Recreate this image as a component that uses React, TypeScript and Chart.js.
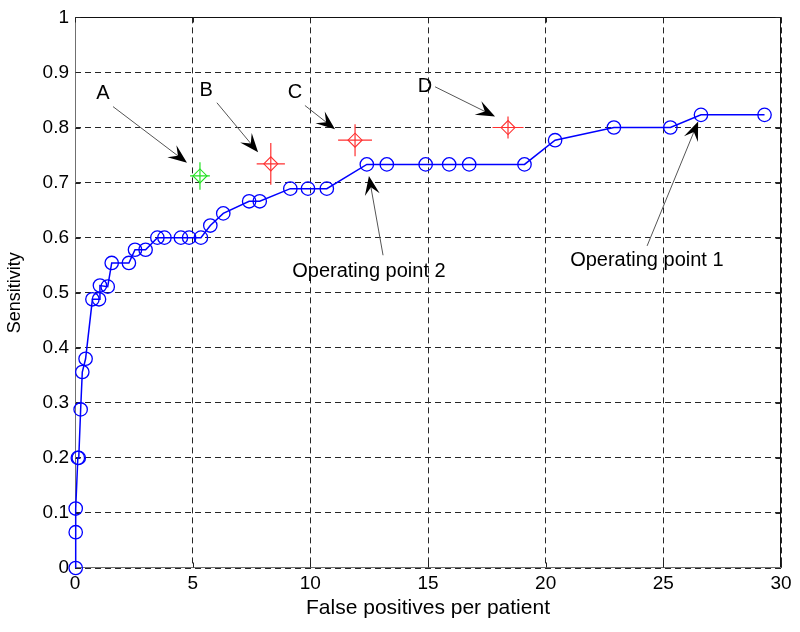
import React, { useEffect, useRef } from 'react';
import { Chart, registerables } from 'chart.js';

Chart.register(...registerables);

// ROC-like curve (blue)
const fpPerPatient = [0.03, 0.03, 0.03, 0.12, 0.16, 0.24, 0.31, 0.45, 0.74, 1.02, 1.06, 1.39, 1.56, 2.29, 2.55, 3.0, 3.5, 3.8, 4.5, 4.85, 5.35, 5.75, 6.3, 7.4, 7.85, 9.15, 9.9, 10.7, 12.4, 13.25, 14.9, 15.9, 16.75, 19.1, 20.4, 22.9, 25.3, 26.6, 29.3];
const sensitivity = [0, 0.065, 0.108, 0.2, 0.2, 0.288, 0.356, 0.38, 0.488, 0.488, 0.513, 0.511, 0.554, 0.554, 0.578, 0.578, 0.6, 0.6, 0.6, 0.6, 0.6, 0.622, 0.644, 0.666, 0.666, 0.689, 0.689, 0.689, 0.733, 0.733, 0.733, 0.733, 0.733, 0.733, 0.777, 0.8, 0.8, 0.823, 0.823];

// Comparison markers A-D with crosshair error bars
const markerLabels = ['A', 'B', 'C', 'D'];
const markerFp = [5.31, 8.32, 11.9, 18.4];
const markerSens = [0.712, 0.734, 0.777, 0.8];
const markerFpErr = [0.42, 0.6, 0.72, 0.66];
const markerSensErr = [0.025, 0.038, 0.029, 0.02];
const markerColors = ['#22e022', '#ff3030', '#ff3030', '#ff3030'];

// Annotation texts and arrows (data coordinates)
const noteTexts = ['A', 'B', 'C', 'D', 'Operating point 2', 'Operating point 1'];
const noteTextX = [1.19, 5.57, 9.35, 14.87, 12.49, 24.3];
const noteTextY = [0.8615, 0.867, 0.864, 0.875, 0.538, 0.5585];
const arrowTailX = [1.615, 6.03, 9.77, 15.3, 13.09, 24.31];
const arrowTailY = [0.838, 0.845, 0.84, 0.874, 0.568, 0.585];
const arrowTipX = [4.76, 7.78, 11.05, 17.85, 12.49, 26.48];
const arrowTipY = [0.736, 0.755, 0.797, 0.82, 0.712, 0.811];

const xTickLabels = ['0', '5', '10', '15', '20', '25', '30'];
const yTickLabels = ['0', '0.1', '0.2', '0.3', '0.4', '0.5', '0.6', '0.7', '0.8', '0.9', '1'];

const FONT = "'Liberation Sans', Arial, Helvetica, sans-serif";

function drawArrow(ctx: CanvasRenderingContext2D, x1: number, y1: number, x2: number, y2: number) {
  const dx = x2 - x1;
  const dy = y2 - y1;
  const len = Math.hypot(dx, dy);
  const ux = dx / len;
  const uy = dy / len;
  const px = -uy;
  const py = ux;
  const L = 19;
  const W = 7.5;
  const bx = x2 - L * ux;
  const by = y2 - L * uy;
  const nx = x2 - 0.6 * L * ux;
  const ny = y2 - 0.6 * L * uy;
  ctx.save();
  ctx.strokeStyle = '#555';
  ctx.lineWidth = 1;
  ctx.beginPath();
  ctx.moveTo(x1, y1);
  ctx.lineTo(nx, ny);
  ctx.stroke();
  ctx.fillStyle = '#000';
  ctx.beginPath();
  ctx.moveTo(x2, y2);
  ctx.lineTo(bx + W * px, by + W * py);
  ctx.lineTo(nx, ny);
  ctx.lineTo(bx - W * px, by - W * py);
  ctx.closePath();
  ctx.fill();
  ctx.restore();
}

const overlayPlugin = {
  id: 'overlay',
  beforeDatasetsDraw(chart: any) {
    const { ctx, chartArea, scales } = chart;
    const xs = scales.x;
    const ys = scales.y;
    const l = Math.round(chartArea.left) + 0.5;
    const r = Math.round(chartArea.right) - 0.5;
    const t = Math.round(chartArea.top) + 0.5;
    const b = Math.round(chartArea.bottom) - 0.5;
    ctx.save();
    ctx.lineWidth = 1;
    // top & right border
    ctx.strokeStyle = '#111';
    ctx.beginPath();
    ctx.moveTo(l, t);
    ctx.lineTo(r, t);
    ctx.lineTo(r, b);
    ctx.stroke();
    // left & bottom axis
    ctx.strokeStyle = '#707070';
    ctx.beginPath();
    ctx.moveTo(l, t);
    ctx.lineTo(l, b);
    ctx.lineTo(r, b);
    ctx.stroke();
    // inner tick marks
    ctx.strokeStyle = '#222';
    ctx.beginPath();
    xs.ticks.forEach((tk: any) => {
      const x = Math.round(xs.getPixelForValue(tk.value)) + 0.5;
      ctx.moveTo(x, b);
      ctx.lineTo(x, b - 5);
      ctx.moveTo(x, t);
      ctx.lineTo(x, t + 5);
    });
    ys.ticks.forEach((tk: any) => {
      const y = Math.round(ys.getPixelForValue(tk.value)) + 0.5;
      ctx.moveTo(l, y);
      ctx.lineTo(l + 5, y);
      ctx.moveTo(r, y);
      ctx.lineTo(r - 5, y);
    });
    ctx.stroke();
    // error bars (crosshair) for markers
    markerFp.forEach((fx, i) => {
      const cx = xs.getPixelForValue(fx);
      const cy = ys.getPixelForValue(markerSens[i]);
      const x0 = xs.getPixelForValue(fx - markerFpErr[i]);
      const x1 = xs.getPixelForValue(fx + markerFpErr[i]);
      const y0 = ys.getPixelForValue(markerSens[i] - markerSensErr[i]);
      const y1 = ys.getPixelForValue(markerSens[i] + markerSensErr[i]);
      ctx.strokeStyle = markerColors[i];
      ctx.lineWidth = 1.2;
      ctx.beginPath();
      ctx.moveTo(x0, cy);
      ctx.lineTo(x1, cy);
      ctx.moveTo(cx, y0);
      ctx.lineTo(cx, y1);
      ctx.stroke();
    });
    ctx.restore();
  },
  afterDatasetsDraw(chart: any) {
    const { ctx, scales } = chart;
    const xs = scales.x;
    const ys = scales.y;
    ctx.save();
    noteTexts.forEach((_, i) => {
      drawArrow(
        ctx,
        xs.getPixelForValue(arrowTailX[i]),
        ys.getPixelForValue(arrowTailY[i]),
        xs.getPixelForValue(arrowTipX[i]),
        ys.getPixelForValue(arrowTipY[i])
      );
    });
    ctx.fillStyle = '#000';
    ctx.font = `20px ${FONT}`;
    ctx.textAlign = 'center';
    ctx.textBaseline = 'middle';
    noteTexts.forEach((txt, i) => {
      ctx.fillText(txt, xs.getPixelForValue(noteTextX[i]), ys.getPixelForValue(noteTextY[i]));
    });
    ctx.restore();
  },
};

export default function App() {
  const canvasRef = useRef<HTMLCanvasElement | null>(null);

  useEffect(() => {
    document.body.style.margin = '0';
    document.body.style.background = '#fff';
    const canvas = canvasRef.current;
    if (!canvas) return;
    const chart = new Chart(canvas, {
      type: 'scatter',
      data: {
        datasets: [
          {
            label: 'Sensitivity curve',
            data: fpPerPatient.map((x, i) => ({ x, y: sensitivity[i] })),
            showLine: true,
            borderColor: '#0000ff',
            borderWidth: 1.5,
            backgroundColor: 'rgba(0,0,0,0)',
            pointRadius: 6.7,
            pointBorderWidth: 1.3,
            pointBorderColor: '#0000ff',
            pointBackgroundColor: 'rgba(0,0,0,0)',
            pointStyle: 'circle',
            clip: false as any,
            order: 2,
          },
          {
            label: 'Markers',
            data: markerFp.map((x, i) => ({ x, y: markerSens[i], label: markerLabels[i] })),
            showLine: false,
            pointStyle: 'rectRot',
            pointRadius: 7,
            pointBorderWidth: 1.1,
            pointBorderColor: markerColors,
            pointBackgroundColor: 'rgba(0,0,0,0)',
            clip: false as any,
            order: 1,
          },
        ],
      },
      options: {
        animation: false,
        responsive: false,
        maintainAspectRatio: false,
        events: [],
        layout: { padding: { left: 0, right: 19, top: 12, bottom: 0 } },
        plugins: {
          legend: { display: false },
          tooltip: { enabled: false },
          title: { display: false },
        },
        scales: {
          x: {
            type: 'linear',
            min: 0,
            max: 30,
            afterFit: (scale: any) => {
              scale.height = 64;
            },
            ticks: {
              stepSize: 5,
              padding: 4,
              color: '#000',
              font: { family: FONT, size: 19 },
              callback: (_v: any, i: number) => xTickLabels[i],
            },
            grid: {
              color: '#262626',
              lineWidth: 1,
              drawTicks: false,
              borderDash: [6, 4],
            } as any,
            border: { display: false, dash: [6, 4] } as any,
            title: {
              display: true,
              text: 'False positives per patient',
              color: '#000',
              font: { family: FONT, size: 21 },
              padding: { top: 0, bottom: 11 },
            },
          },
          y: {
            type: 'linear',
            min: 0,
            max: 1,
            afterFit: (scale: any) => {
              scale.width = 75;
            },
            ticks: {
              stepSize: 0.1,
              padding: 6,
              color: '#000',
              font: { family: FONT, size: 19 },
              callback: (_v: any, i: number) => yTickLabels[i],
            },
            grid: {
              color: '#262626',
              lineWidth: 1,
              drawTicks: false,
              borderDash: [6, 4],
            } as any,
            border: { display: false, dash: [6, 4] } as any,
            title: {
              display: true,
              text: 'Sensitivity',
              color: '#000',
              font: { family: FONT, size: 18 },
              padding: { top: 4, bottom: 0 },
            },
          },
        },
      },
      plugins: [overlayPlugin],
    });
    return () => chart.destroy();
  }, []);

  return (
    <div style={{ position: 'fixed', left: 0, top: 0, width: 800, height: 632, background: '#fff' }}>
      <canvas ref={canvasRef} width={800} height={632} style={{ display: 'block' }} />
    </div>
  );
}
